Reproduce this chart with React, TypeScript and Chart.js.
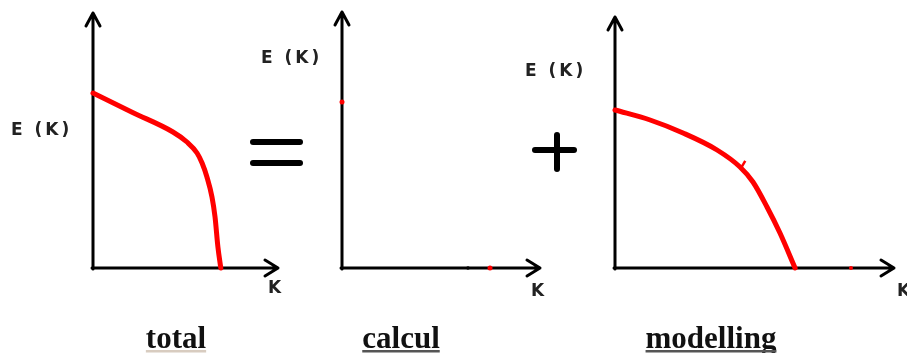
import React, { useEffect, useRef } from "react";
import { Chart, registerables } from "chart.js";

Chart.register(...registerables);

// Energy curve E(K) of the total field
const K_TOTAL = [0, 2.2, 4.44, 5.22, 5.78, 6.06, 6.33, 6.61, 6.78, 6.94, 7.1];
const E_TOTAL = [7.0, 6.22, 5.44, 5.04, 4.6, 4.2, 3.64, 2.84, 2.04, 0.84, 0];

// Resolved (calculated) part: only isolated values
const K_CALC = [0, 7.79];
const E_CALC = [6.64, 0];
const K_CALC_MARK = [6.63];
const E_CALC_MARK = [0];

// Modelled part
const K_MODEL = [0, 1.3, 2.52, 3.78, 4.63, 5.11, 5.63, 6.11, 6.67];
const E_MODEL = [6.32, 5.92, 5.4, 4.72, 4.04, 3.44, 2.44, 1.4, 0];
const K_MODEL_TICK = [4.75];
const E_MODEL_TICK = [4.15];
const K_MODEL_DOT = [8.74];
const E_MODEL_DOT = [0];

const PANEL_TITLES = ["total", "calcul", "modelling"];
const AXIS_Y_LABEL = "E (K)";
const AXIS_X_LABEL = "K";

const W = 907;
const H = 353;
const RED = "#ff0000";

const pts = (xs: number[], ys: number[]) => xs.map((x, i) => ({ x, y: ys[i] }));

type Label = { text: string; x: number; y: number };
type PanelOpts = {
  area: { left: number; right: number; top: number; bottom: number };
  yTip: number;
  xTip: number;
  yLabel: Label;
  xLabel: Label;
  title: { text: string; x: number; underline: string };
};

const handAxes = {
  id: "handAxes",
  beforeDatasetsDraw(chart: any, _args: any, o: PanelOpts) {
    const { ctx, chartArea } = chart;
    const l = chartArea.left;
    const b = chartArea.bottom;
    ctx.save();
    ctx.strokeStyle = "#000";
    ctx.lineWidth = 3;
    ctx.lineCap = "round";
    ctx.lineJoin = "round";
    // vertical axis with arrow
    ctx.beginPath();
    ctx.moveTo(l, b + 1);
    ctx.lineTo(l, o.yTip);
    ctx.moveTo(l - 7, o.yTip + 13);
    ctx.lineTo(l, o.yTip);
    ctx.lineTo(l + 7, o.yTip + 13);
    ctx.stroke();
    // horizontal axis with arrow
    ctx.beginPath();
    ctx.moveTo(l - 1, b);
    ctx.lineTo(o.xTip, b);
    ctx.moveTo(o.xTip - 13, b - 8);
    ctx.lineTo(o.xTip, b);
    ctx.lineTo(o.xTip - 13, b + 8);
    ctx.stroke();

    // axis labels
    ctx.fillStyle = "#222";
    ctx.font = "bold 17px 'DejaVu Sans', sans-serif";
    ctx.textBaseline = "middle";
    ctx.textAlign = "left";
    (ctx as any).letterSpacing = "3px";
    ctx.fillText(o.yLabel.text, o.yLabel.x, o.yLabel.y);
    (ctx as any).letterSpacing = "0px";
    ctx.fillText(o.xLabel.text, o.xLabel.x, o.xLabel.y);

    // panel title, underlined
    ctx.font = "bold 31px 'Liberation Serif', 'Times New Roman', serif";
    ctx.textAlign = "center";
    ctx.textBaseline = "alphabetic";
    ctx.fillStyle = "#111";
    ctx.fillText(o.title.text, o.title.x, 348);
    const tw = ctx.measureText(o.title.text).width;
    ctx.fillStyle = o.title.underline;
    ctx.fillRect(o.title.x - tw / 2, 350, tw, 2.5);
    ctx.restore();
  },
};

function makeConfig(datasets: any[], o: PanelOpts): any {
  return {
    type: "scatter",
    data: { datasets },
    plugins: [handAxes],
    options: {
      responsive: false,
      animation: false,
      events: [],
      layout: {
        padding: {
          left: o.area.left,
          right: W - o.area.right,
          top: o.area.top,
          bottom: H - o.area.bottom,
        },
      },
      scales: {
        x: { type: "linear", min: 0, max: 10, display: false },
        y: { type: "linear", min: 0, max: 10, display: false },
      },
      plugins: {
        legend: { display: false },
        tooltip: { enabled: false },
        handAxes: o,
      },
    },
  };
}

const curve = (xs: number[], ys: number[]) => ({
  data: pts(xs, ys),
  showLine: true,
  borderColor: RED,
  borderWidth: 5,
  borderCapStyle: "round",
  borderJoinStyle: "round",
  cubicInterpolationMode: "monotone",
  pointRadius: 0,
  clip: false,
});

const dots = (xs: number[], ys: number[], color: string, r: number, extra: any = {}) => ({
  data: pts(xs, ys),
  showLine: false,
  pointRadius: r,
  pointBackgroundColor: color,
  pointBorderWidth: 0,
  clip: false,
  ...extra,
});

const configs = [
  makeConfig([curve(K_TOTAL, E_TOTAL)], {
    area: { left: 93, right: 273, top: 18, bottom: 268 },
    yTip: 13,
    xTip: 278,
    yLabel: { text: AXIS_Y_LABEL, x: 11, y: 131 },
    xLabel: { text: AXIS_X_LABEL, x: 268, y: 289 },
    title: { text: PANEL_TITLES[0], x: 176, underline: "rgba(190,170,150,0.6)" },
  }),
  makeConfig(
    [
      dots(K_CALC, E_CALC, RED, 2.5),
      dots(K_CALC_MARK, E_CALC_MARK, "#000", 1.8),
    ],
    {
      area: { left: 342, right: 532, top: 18, bottom: 268 },
      yTip: 12,
      xTip: 540,
      yLabel: { text: AXIS_Y_LABEL, x: 261, y: 59 },
      xLabel: { text: AXIS_X_LABEL, x: 531, y: 292 },
      title: { text: PANEL_TITLES[1], x: 401, underline: "#555" },
    }
  ),
  makeConfig(
    [
      curve(K_MODEL, E_MODEL),
      dots(K_MODEL_TICK, E_MODEL_TICK, RED, 4, {
        pointStyle: "line",
        rotation: 120,
        pointBorderColor: RED,
        pointBorderWidth: 2.5,
      }),
      dots(K_MODEL_DOT, E_MODEL_DOT, RED, 2),
    ],
    {
      area: { left: 615, right: 885, top: 18, bottom: 268 },
      yTip: 17,
      xTip: 894,
      yLabel: { text: AXIS_Y_LABEL, x: 525, y: 72 },
      xLabel: { text: AXIS_X_LABEL, x: 897, y: 292 },
      title: { text: PANEL_TITLES[2], x: 711, underline: "#555" },
    }
  ),
];

function Panel({ config }: { config: any }) {
  const ref = useRef<HTMLCanvasElement | null>(null);
  useEffect(() => {
    if (!ref.current) return;
    const chart = new Chart(ref.current, config);
    return () => chart.destroy();
  }, [config]);
  return (
    <canvas
      ref={ref}
      width={W}
      height={H}
      style={{ position: "absolute", left: 0, top: 0, width: W, height: H }}
    />
  );
}

const bar = (left: number, top: number, width: number, height: number): React.CSSProperties => ({
  position: "absolute",
  left,
  top,
  width,
  height,
  background: "#000",
  borderRadius: 3,
});

export default function App() {
  return (
    <div
      style={{
        position: "absolute",
        left: 0,
        top: 0,
        width: W,
        height: H,
        background: "#fff",
        overflow: "hidden",
      }}
    >
      {/* "=" between total and calcul */}
      <div style={bar(250, 139, 53, 6)} />
      <div style={bar(250, 160, 53, 6)} />
      {/* "+" between calcul and modelling */}
      <div style={bar(532, 147, 45, 6)} />
      <div style={bar(554, 132, 6, 40)} />
      {configs.map((c, i) => (
        <Panel key={i} config={c} />
      ))}
    </div>
  );
}
